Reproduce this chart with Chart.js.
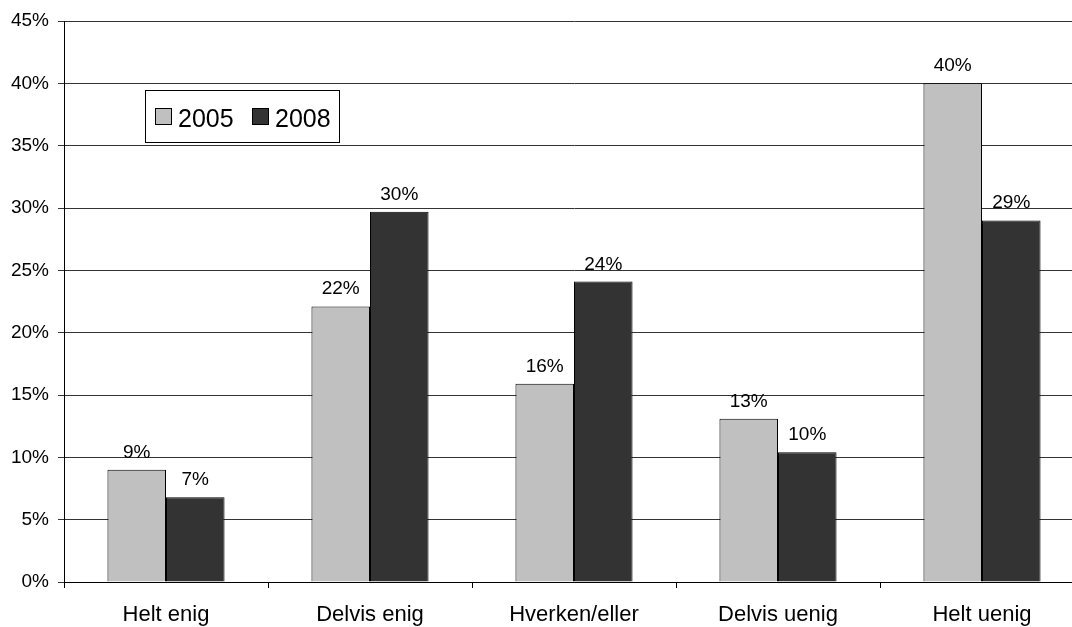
<!DOCTYPE html>
<html>
<head>
<meta charset="utf-8">
<script src="https://cdn.jsdelivr.net/npm/chart.js@4.4.1/dist/chart.umd.min.js"></script>
<style>
  html, body { margin: 0; padding: 0; background: #fff; overflow: hidden; }
  #wrap { width: 1072px; height: 627px; overflow: hidden; }
  canvas { display: block; }
</style>
</head>
<body>
<div id="wrap"><canvas id="c" width="1084" height="627"></canvas></div>
<script>
const categories = ['Helt enig', 'Delvis enig', 'Hverken/eller', 'Delvis uenig', 'Helt uenig'];
const seriesNames = ['2005', '2008'];
const values2005 = [9.0, 22.1, 15.9, 13.1, 40.0];
const values2008 = [6.8, 29.7, 24.1, 10.4, 29.0];
const yTicks = [0, 5, 10, 15, 20, 25, 30, 35, 40, 45];
const colors = ['#C0C0C0', '#333333'];

const FONT = 'Arial, "Liberation Sans", sans-serif';

const dataLabels = {
  id: 'dataLabels',
  afterDatasetsDraw(chart) {
    const ctx = chart.ctx;
    ctx.save();
    ctx.font = '19px ' + FONT;
    ctx.fillStyle = '#000';
    ctx.textAlign = 'center';
    ctx.textBaseline = 'alphabetic';
    chart.data.datasets.forEach((ds, i) => {
      chart.getDatasetMeta(i).data.forEach((bar, j) => {
        ctx.fillText(Math.round(ds.data[j]) + '%', bar.x, bar.y - 12);
      });
    });
    ctx.restore();
  }
};

const boxLegend = {
  id: 'boxLegend',
  afterDraw(chart) {
    const ctx = chart.ctx;
    ctx.save();
    const x0 = 145, y0 = 90, w = 194, h = 52;
    ctx.fillStyle = '#fff';
    ctx.fillRect(x0, y0, w, h);
    ctx.strokeStyle = '#000';
    ctx.lineWidth = 1;
    ctx.strokeRect(x0 + 0.5, y0 + 0.5, w, h);
    ctx.font = '25px ' + FONT;
    ctx.textBaseline = 'alphabetic';
    ctx.textAlign = 'left';
    const sx = [155, 252];
    chart.data.datasets.forEach((ds, i) => {
      ctx.fillStyle = ds.backgroundColor;
      ctx.fillRect(sx[i], 108, 16, 16);
      ctx.strokeStyle = '#000';
      ctx.strokeRect(sx[i] + 0.5, 108.5, 16, 16);
      ctx.fillStyle = '#000';
      ctx.fillText(ds.label, sx[i] + 23, 127);
    });
    ctx.restore();
  }
};

new Chart(document.getElementById('c'), {
  type: 'bar',
  data: {
    labels: categories,
    datasets: [
      { label: seriesNames[0], data: values2005, backgroundColor: colors[0], borderColor: '#000', borderWidth: 1, categoryPercentage: 0.574, barPercentage: 1.0 },
      { label: seriesNames[1], data: values2008, backgroundColor: colors[1], borderColor: '#000', borderWidth: 1, categoryPercentage: 0.574, barPercentage: 1.0 }
    ]
  },
  options: {
    responsive: false,
    animation: false,
    devicePixelRatio: 1,
    layout: { padding: { top: 21, right: 0, left: 0, bottom: 0 } },
    plugins: { legend: { display: false }, tooltip: { enabled: false } },
    scales: {
      x: {
        offset: true,
        grid: { offset: true, drawOnChartArea: false, color: '#000', tickLength: 6 },
        border: { color: '#000', width: 1 },
        ticks: { color: '#000', font: { family: FONT, size: 22 }, padding: 14, maxRotation: 0 },
        afterFit(s) { s.height = 45; }
      },
      y: {
        min: 0, max: 45,
        afterBuildTicks(s) { s.ticks = yTicks.map(v => ({ value: v })); },
        grid: { color: '#333', tickLength: 6 },
        border: { color: '#000', width: 1 },
        ticks: { color: '#000', font: { family: FONT, size: 19 }, padding: 9, callback: v => v + '%' },
        afterFit(s) { s.width = 64; }
      }
    }
  },
  plugins: [dataLabels, boxLegend]
});
</script>
</body>
</html>
